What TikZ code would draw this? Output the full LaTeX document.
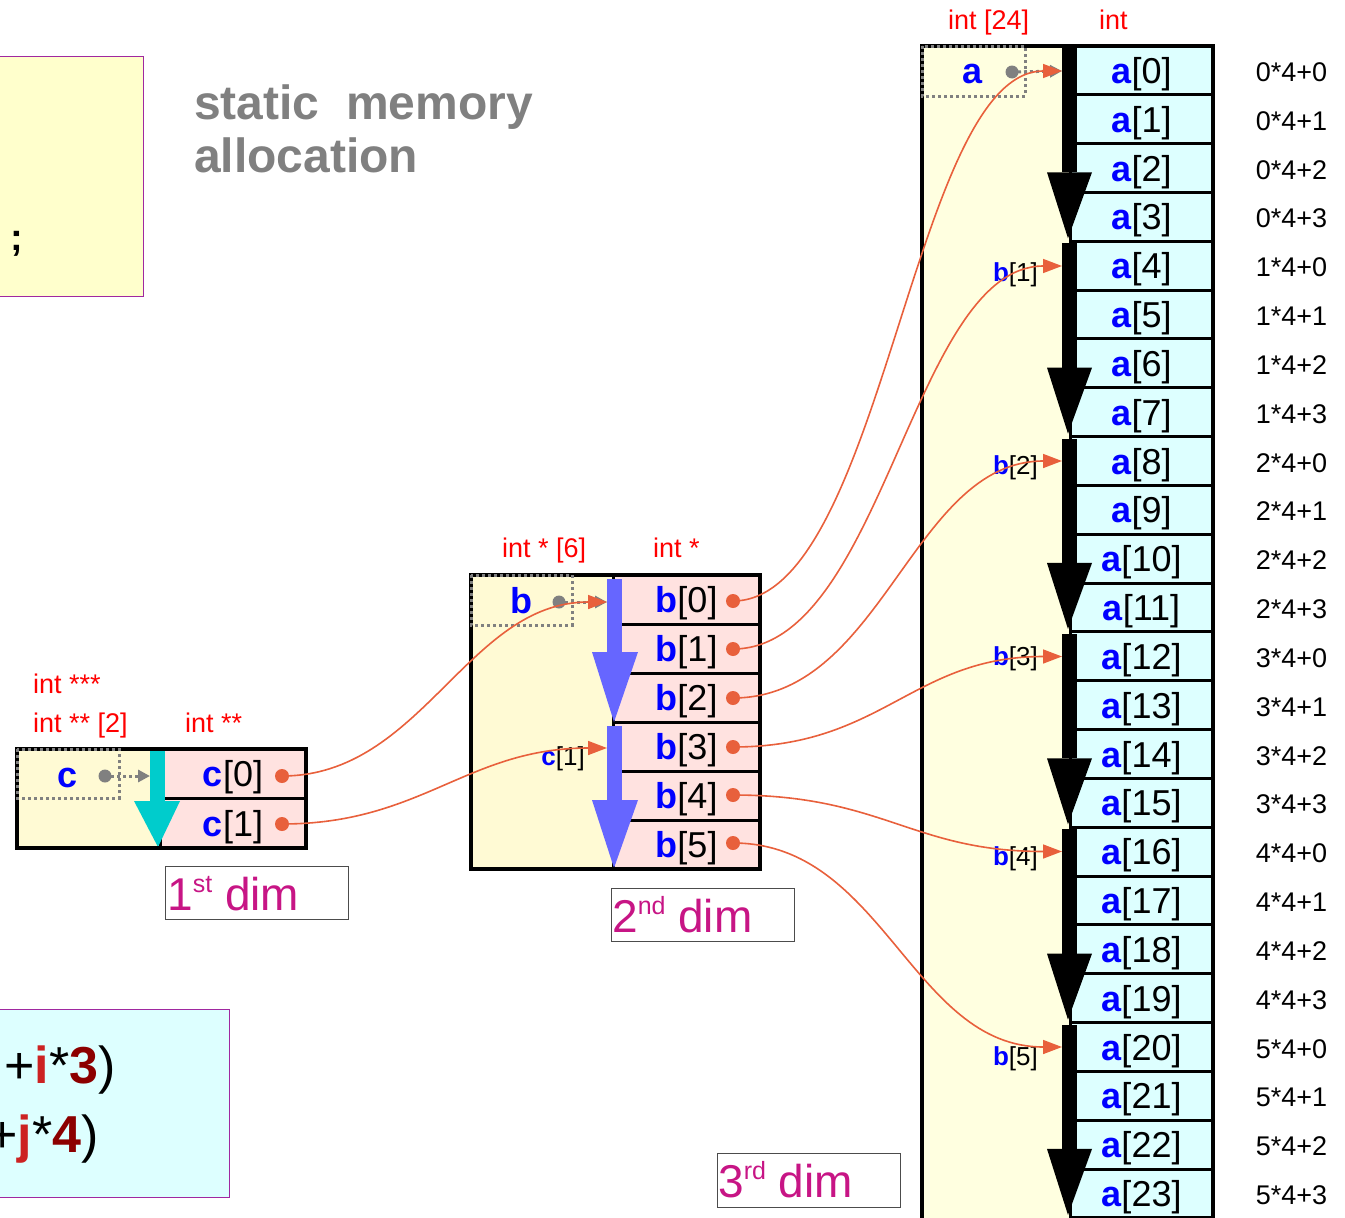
\documentclass[tikz,border=0pt]{standalone}
\usepackage{fontspec}
\setmainfont{Liberation Sans}
\usetikzlibrary{arrows.meta}
\definecolor{ptr}{RGB}{232,96,60}
\definecolor{lblred}{RGB}{255,0,0}
\definecolor{varblue}{RGB}{0,0,255}
\definecolor{yelA}{RGB}{255,255,224}
\definecolor{yelB}{RGB}{255,250,212}
\definecolor{topyel}{RGB}{255,255,204}
\definecolor{pinkc}{RGB}{255,226,224}
\definecolor{cyanc}{RGB}{221,255,255}
\definecolor{barblue}{RGB}{102,102,255}
\definecolor{barcyan}{RGB}{0,204,204}
\definecolor{dimmag}{RGB}{199,21,133}
\definecolor{boxpurple}{RGB}{160,40,160}
\definecolor{titlegray}{RGB}{128,128,128}
\definecolor{ired}{RGB}{204,34,34}
\definecolor{dred}{RGB}{140,0,0}
\newcommand{\vn}[2]{\textcolor{varblue}{\bfseries #1}[#2]}
\newcommand{\supx}[1]{\raisebox{18pt}{\fontsize{25}{25}\selectfont #1}}
\begin{document}
\begin{tikzpicture}[x=1pt,y=-1pt,
  cellbase/.style={draw=black, line width=3pt, inner sep=0pt, font=\fontsize{36}{40}\selectfont, text height=26pt, text depth=0pt},
  acell/.style={cellbase, fill=cyanc, minimum width=143pt, minimum height=48.83pt},
  bcell/.style={cellbase, fill=pinkc, minimum width=147pt, minimum height=49pt},
  ccell/.style={cellbase, fill=pinkc, minimum width=146pt, minimum height=49.5pt},
  lbl/.style={text=lblred, font=\fontsize{27}{30}\selectfont, inner sep=0pt, anchor=base west},
  formtxt/.style={font=\fontsize{27}{30}\selectfont, inner sep=0pt, anchor=base},
  smalllbl/.style={font=\fontsize{26}{30}\selectfont, inner sep=0pt, anchor=base east},
  varn/.style={text=varblue, font=\fontsize{36}{40}\selectfont\bfseries, inner sep=0pt, anchor=base},
  dotbox/.style={draw=titlegray, line width=3pt, dash pattern=on 3pt off 3pt},
  graydot/.style={titlegray, line width=3pt, dash pattern=on 3pt off 3pt, -{Triangle[length=12pt,width=12pt]}},
  ptrline/.style={ptr, line width=1.6pt, -{Triangle[length=19pt,width=14pt]}},
  dimframe/.style={draw=black!70, line width=1pt},
  dimtext/.style={text=dimmag, font=\fontsize{46}{50}\selectfont, inner sep=0pt, anchor=base west},
  bigform/.style={font=\fontsize{52}{58}\selectfont, inner sep=0pt, anchor=base east}
]
\useasboundingbox (0,0) rectangle (1345,1218);
\clip (0,0) rectangle (1345,1218);

% ---------- top-left code box ----------
\path[draw=boxpurple, line width=1pt, fill=topyel] (-5,56) rectangle (143,296);
\node[font=\fontsize{38}{42}\selectfont\bfseries, inner sep=0pt, anchor=base] (semi) at (17,250) {;};

% ---------- title ----------
\node[font=\fontsize{48}{52}\selectfont\bfseries, text=titlegray, inner sep=0pt, anchor=base west] (title1) at (194,119) {static\ \ memory};
\node[font=\fontsize{48}{52}\selectfont\bfseries, text=titlegray, inner sep=0pt, anchor=base west] (title2) at (194,172) {allocation};

% ---------- bottom-left formula box ----------
\path[draw=boxpurple, line width=1pt, fill=cyanc] (-5,1009) rectangle (229,1197);
\node[bigform] (form1) at (116,1083) {+\textcolor{ired}{\bfseries i}*\textcolor{dred}{\bfseries 3})};
\node[bigform] (form2) at (99,1152) {+\textcolor{ired}{\bfseries j}*\textcolor{dred}{\bfseries 4})};

% ---------- a block ----------
\fill[yelA] (922,46) rectangle (1070,1230);
\foreach \i in {0,...,23} {
  \pgfmathsetmacro{\yc}{46+48.83*\i+24.415}
  \pgfmathtruncatemacro{\qq}{\i/4}
  \pgfmathtruncatemacro{\rr}{\i-4*\qq}
  \node[acell] (a\i) at (1141.5,\yc) {\vn{a}{\i}};
  \node[formtxt] (f\i) at (1291.5,\yc+11) {\qq*4+\rr};
}
\foreach \j in {0,...,5} {
  \pgfmathsetmacro{\bartop}{46+195.33*\j+2*min(\j,1)}
  \pgfmathsetmacro{\bartip}{46+195.33*(\j+1)-3}
  \fill[black] (1062,\bartop) rectangle (1077,\bartip-66);
  \fill[black] (1047,\bartip-66) -- (1092,\bartip-66) -- (1068,\bartip) -- cycle;
}
\draw[line width=4pt] (922,1230) -- (922,46) -- (1213,46) -- (1213,1230);
\draw[dotbox] (922,46) rectangle (1025,96);
\node[varn] (aname) at (973,83) {a};
\coordinate (adot) at (1012,72);
\coordinate (a0in) at (1062,71);
\draw[graydot] (adot) -- (a0in);
\fill[titlegray] (adot) circle (6.5);

\node[smalllbl] (bl1) at (1038,281) {\vn{b}{1}};
\node[smalllbl] (bl2) at (1038,474) {\vn{b}{2}};
\node[smalllbl] (bl3) at (1038,665) {\vn{b}{3}};
\node[smalllbl] (bl4) at (1038,865) {\vn{b}{4}};
\node[smalllbl] (bl5) at (1038,1065) {\vn{b}{5}};
\coordinate (a4in) at (1062,266);
\coordinate (a8in) at (1062,461);
\coordinate (a12in) at (1062,656.5);
\coordinate (a16in) at (1062,851.5);
\coordinate (a20in) at (1062,1047);

\node[lbl] (l6) at (948,29) {int [24]};
\node[lbl] (l7) at (1099,29) {int};

% ---------- b block ----------
\fill[yelB] (471,575) rectangle (613,869);
\foreach \k in {0,...,5} {
  \node[bcell] (b\k) at (686.5,575+49*\k+24.5) {\vn{b}{\k}};
}
\fill[barblue] (607,579) rectangle (622,652);
\fill[barblue] (592,652) -- (638,652) -- (614,722) -- cycle;
\fill[barblue] (607,726) rectangle (622,800);
\fill[barblue] (592,800) -- (638,800) -- (614,868) -- cycle;
\draw[line width=4pt] (471,575) rectangle (760,869);
\draw[dotbox] (471,575) rectangle (572,625);
\node[varn] (bname) at (521,613) {b};
\coordinate (bdot) at (559,602);
\coordinate (b0in) at (607,602);
\coordinate (b3in) at (607,748);
\draw[graydot] (bdot) -- (b0in);
\fill[titlegray] (bdot) circle (6.5);
\node[smalllbl] (cl1) at (585,765) {\vn{c}{1}};
\node[lbl] (l4) at (502,557) {int * [6]};
\node[lbl] (l5) at (653,557) {int *};
\foreach \k/\yy in {0/601,1/649,2/698,3/747,4/795,5/843} {
  \coordinate (bd\k) at (733,\yy);
}

% ---------- c block ----------
\fill[yelB] (17,749) rectangle (160,848);
\node[ccell] (c0) at (233,773.5) {\vn{c}{0}};
\node[ccell] (c1) at (233,823) {\vn{c}{1}};
\fill[barcyan] (150,749) rectangle (165,801);
\fill[barcyan] (134,801) -- (180,801) -- (158,847) -- cycle;
\draw[line width=4pt] (17,749) rectangle (306,848);
\draw[dotbox] (17,749) rectangle (119,798);
\node[varn] (cname) at (68,787) {c};
\coordinate (cdot) at (105,776);
\coordinate (cbar) at (150,776);
\draw[graydot] (cdot) -- (cbar);
\fill[titlegray] (cdot) circle (6.5);
\coordinate (cd0) at (282,776);
\coordinate (cd1) at (282,824);
\node[lbl] (l1) at (33,693) {int ***};
\node[lbl] (l2) at (33,732) {int ** [2]};
\node[lbl] (l3) at (185,732) {int **};

% ---------- dim labels ----------
\draw[dimframe] (165,866) rectangle (348,919);
\node[dimtext] (dim1) at (167,910) {1\supx{st} dim};
\draw[dimframe] (611,888) rectangle (794,941);
\node[dimtext] (dim2) at (612,932) {2\supx{nd} dim};
\draw[dimframe] (717,1153) rectangle (900,1207);
\node[dimtext] (dim3) at (718,1197) {3\supx{rd} dim};

% ---------- pointer curves ----------
\draw[ptrline] (cd0) .. controls +(140,0) and +(-140,0) .. (b0in);
\draw[ptrline] (cd1) .. controls +(140,0) and +(-140,0) .. (b3in);
\draw[ptrline] (bd0) .. controls +(150,0) and +(-150,0) .. (a0in);
\draw[ptrline] (bd1) .. controls +(150,0) and +(-150,0) .. (a4in);
\draw[ptrline] (bd2) .. controls +(150,0) and +(-150,0) .. (a8in);
\draw[ptrline] (bd3) .. controls +(150,0) and +(-150,0) .. (a12in);
\draw[ptrline] (bd4) .. controls +(150,0) and +(-150,0) .. (a16in);
\draw[ptrline] (bd5) .. controls +(150,0) and +(-150,0) .. (a20in);
\foreach \p in {cd0,cd1,bd0,bd1,bd2,bd3,bd4,bd5} {
  \fill[ptr] (\p) circle (7);
}
\end{tikzpicture}
\end{document}
